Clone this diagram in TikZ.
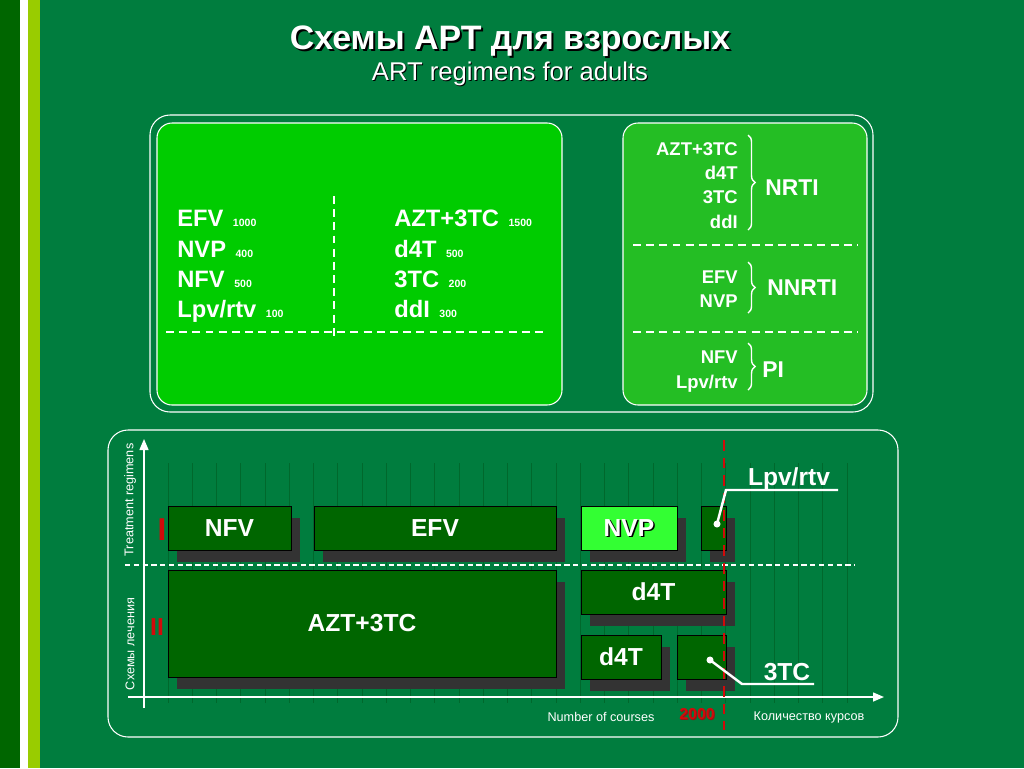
\documentclass[tikz,border=0pt]{standalone}
\usepackage{fontspec}
\setmainfont{Liberation Sans}
\usetikzlibrary{positioning,arrows.meta,calc,shadows,decorations.pathreplacing}
\definecolor{SlideGreen}{RGB}{0,125,62}
\definecolor{StripeDark}{RGB}{0,102,0}
\definecolor{StripeLime}{RGB}{153,204,0}
\definecolor{PanelGreen}{RGB}{0,204,0}
\definecolor{ClassGreen}{RGB}{36,190,36}
\definecolor{BarGreen}{RGB}{0,102,0}
\definecolor{BarLight}{RGB}{51,255,51}
\definecolor{BarShadow}{RGB}{51,51,51}
\definecolor{GridGreen}{RGB}{0,104,44}
\definecolor{MarkRed}{RGB}{210,10,10}
\definecolor{MarkDark}{RGB}{150,20,20}
\newcommand{\dosis}[1]{\hspace{0.4em}{\fontsize{6}{7}\selectfont #1}}
\tikzset{
  frame/.style={draw=white,line width=0.6pt,rounded corners=0.4cm},
  panel/.style={draw=white,line width=0.6pt,rounded corners=0.3cm},
  whitedash/.style={draw=white,line width=1.1pt,dash pattern=on 4.5pt off 3pt},
  thindash/.style={draw=white,line width=0.6pt,dash pattern=on 3pt off 2pt},
  reddash/.style={draw=MarkRed,line width=1.2pt,dash pattern=on 6pt off 4pt},
  titletext/.style={text=white,font=\bfseries\fontsize{19.3}{21}\selectfont,inner sep=0pt,anchor=base},
  subtext/.style={text=white,font=\fontsize{14.6}{16}\selectfont,inner sep=0pt,anchor=base},
  drug/.style={text=white,font=\bfseries\fontsize{13.5}{16}\selectfont,inner sep=0pt,anchor=base west},
  member/.style={text=white,font=\bfseries\fontsize{10.5}{12}\selectfont,inner sep=0pt,anchor=base east},
  drugclass/.style={text=white,font=\bfseries\fontsize{13}{15}\selectfont,inner sep=0pt,anchor=base west},
  brace/.style={draw=white,line width=0.8pt,decorate,decoration={brace,amplitude=4pt}},
  axis/.style={draw=white,line width=0.8pt,-{Triangle[length=2.2mm,width=1.8mm]}},
  gridline/.style={draw=GridGreen,line width=0.4pt},
  bartext/.style={text=white,font=\bfseries\fontsize{14}{16}\selectfont},
  span/.style 2 args={minimum width=#1*0.02cm,minimum height=#2*0.02cm},
  bar/.style={draw=black,line width=0.4pt,fill=BarGreen,inner sep=0pt,bartext,
    general shadow={fill=BarShadow,shadow xshift=0.17cm,shadow yshift=-0.24cm}},
  axislabel/.style={text=white,font=\fontsize{7.2}{8}\selectfont,inner sep=0pt},
  callout/.style={draw=white,line width=1.4pt},
  callouttext/.style={text=white,font=\bfseries\fontsize{14}{16}\selectfont,inner sep=0pt,anchor=base},
  level/.style={text=MarkRed,font=\bfseries\fontsize{#1}{#1}\selectfont,inner sep=0pt}
}

\begin{document}
\begin{tikzpicture}[x=0.02cm,y=-0.02cm]
  \useasboundingbox (0,0) rectangle (1024,768);
  % slide background
  \fill[SlideGreen] (0,0) rectangle (1024,768);
  \fill[StripeDark] (0,0) rectangle (20,768);
  \fill[white] (20,0) rectangle (28,768);
  \fill[StripeLime] (28,0) rectangle (40,768);

  \node[titletext,text=black] (titleshade) at (512,51) {Схемы АРТ для взрослых};
  \node[titletext] (title) at (510,49) {Схемы АРТ для взрослых};
  \node[subtext,text=black] (subshade) at (511,81) {ART regimens for adults};
  \node[subtext] (subtitle) at (510,80) {ART regimens for adults};

  % doses and drug classes
  \draw[frame] (150,115) rectangle (873,412);
  \draw[panel,fill=PanelGreen] (157,123) rectangle (562,405);
  \draw[panel,fill=ClassGreen] (623,123) rectangle (867,405);
  \draw[whitedash] (334,196) -- (334,340);
  \draw[whitedash] (166,332) -- (547,332);
  \foreach \name/\dose/\y in {EFV/1000/226, NVP/400/257, NFV/500/287, Lpv\slash rtv/100/317}
    \node[drug] (dose\y) at (177,\y) {\name\dosis{\dose}};
  \foreach \name/\dose/\y in {AZT+3TC/1500/226, d4T/500/257, 3TC/200/287, ddI/300/317}
    \node[drug] (nuc\y) at (394,\y) {\name\dosis{\dose}};

  \foreach \name/\y in {AZT+3TC/155, d4T/179, 3TC/203, ddI/228}
    \node[member] (nrti\y) at (738,\y) {\name};
  \draw[brace] (748,135) -- (748,230);
  \node[drugclass] (nrti) at (765,195) {NRTI};
  \draw[whitedash] (633,245) -- (858,245);
  \foreach \name/\y in {EFV/283, NVP/307}
    \node[member] (nnrti\y) at (738,\y) {\name};
  \draw[brace] (748,262) -- (748,313);
  \node[drugclass] (nnrti) at (767,295) {NNRTI};
  \draw[whitedash] (633,332) -- (858,332);
  \foreach \name/\y in {NFV/363, Lpv\slash rtv/388}
    \node[member] (pi\y) at (738,\y) {\name};
  \draw[brace] (748,343) -- (748,390);
  \node[drugclass] (pi) at (762,377) {PI};

  % regimen chart
  \draw[frame] (108,430) rectangle (898,737);
  \foreach \i in {0,...,28}
    \draw[gridline] ({168+24.25*\i},463) -- ({168+24.25*\i},703);
  \draw[thindash] (125,565) -- (855,565);
  \draw[axis] (144,708) -- (144,439);
  \draw[axis] (128,697) -- (884,697);
  \node[axislabel,rotate=90] (enlabel) at (130,500) {Treatment regimens};
  \node[axislabel,rotate=90] (rulabel) at (130,644) {Схемы лечения};
  \node[level=18] (first) at (162,530) {I};
  \node[level=14] (second) at (157,627) {II};

  \node[bar,span={123}{44}] (nfv) at (229.5,528) {NFV};
  \node[bar,span={242}{44}] (efv) at (435,528) {EFV};
  \node[bar,fill=BarLight,span={96}{44}] (nvp) at (629,528) {};
  \node[bartext,text=black] (nvpshade) at ($(nvp.center)+(1.5,1.5)$) {NVP};
  \node[bartext] (nvptext) at (nvp.center) {NVP};
  \node[bar,span={25}{44}] (lpv) at (713.5,528) {};
  \node[bar,span={388}{107}] (aztc) at (362,623.5) {AZT+3TC};
  \node[bar,span={145}{44}] (dfirst) at (653.5,592) {d4T};
  \node[bar,span={80}{44}] (dsecond) at (621,657) {d4T};
  \node[bar,span={49}{44}] (tc) at (701.5,657) {};

  \draw[reddash] (724,440) -- (724,730);
  \node[axislabel] (encourses) at (601,717) {Number of courses};
  \node[axislabel] (rucourses) at (809,717) {Количество курсов};
  \node[level=9,text=MarkDark] (yearshade) at (698,715) {2000};
  \node[level=9] (year) at (697,714) {2000};

  % callouts
  \coordinate (lpvdot) at (717,524);
  \coordinate (lpvbend) at (726,490);
  \coordinate (lpvend) at (838,490);
  \draw[callout] (lpvdot) -- (lpvbend) -- (lpvend);
  \fill[white] (lpvdot) circle (2pt);
  \node[callouttext] (lpvlabel) at (789,485) {Lpv/rtv};
  \coordinate (tcdot) at (710,660);
  \coordinate (tcbend) at (742,684);
  \coordinate (tcend) at (814,684);
  \draw[callout] (tcdot) -- (tcbend) -- (tcend);
  \fill[white] (tcdot) circle (2pt);
  \node[callouttext] (tclabel) at (787,680) {3TC};
\end{tikzpicture}
\end{document}
